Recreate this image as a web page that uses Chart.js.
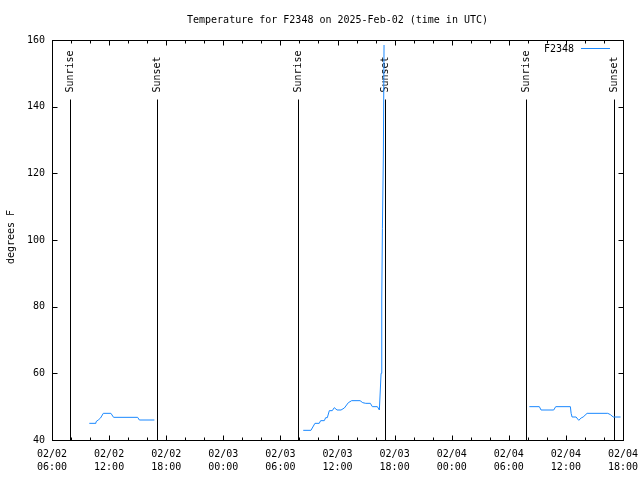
<!DOCTYPE html>
<html>
<head>
<meta charset="utf-8">
<script src="https://cdn.jsdelivr.net/npm/chart.js@4.4.1/dist/chart.umd.min.js"></script>
<style>
  html, body { margin: 0; padding: 0; background: #fff; }
  canvas { display: block; }
</style>
</head>
<body>
<canvas id="graficoTemp" width="640" height="480"></canvas>
<script>
// horas contadas a partir de 02/02 06:00 UTC (null separa os trechos)
const horas = [
  3.92, 4.61, 4.63, 4.86, 5.10, 5.39, 6.19, 6.47, 9.00, 9.18, 10.76,
  18,
  26.40, 27.21, 27.63, 28.08, 28.23, 28.61, 28.76, 28.93, 29.14, 29.45, 29.66, 29.95,
  30.37, 30.72, 31.14, 31.49, 32.37, 32.65, 32.97, 33.45, 33.66, 34.19, 34.40,
  34.58, 34.65, 34.72, 34.82, 34.89,
  42,
  50.16, 51.21, 51.39, 52.72, 52.93, 54.47, 54.55, 54.65, 55.07, 55.35, 55.60,
  55.81, 56.23, 58.40, 58.68, 58.97, 59.74
];
const temperaturas = [
  45.0, 45.0, 45.5, 46.0, 46.6, 48.0, 48.0, 46.8, 46.8, 46.0, 46.0,
  null,
  42.9, 42.9, 45.0, 45.0, 45.8, 45.8, 46.7, 46.7, 48.8, 48.8, 49.7, 49.0,
  49.0, 49.6, 51.2, 51.8, 51.8, 51.2, 51.0, 51.0, 50.0, 50.0, 49.0,
  60.0, 82.0, 103.5, 125.5, 158.5,
  null,
  50.0, 50.0, 49.0, 49.0, 50.0, 50.0, 48.0, 46.9, 46.9, 45.9, 46.6,
  46.9, 48.0, 48.0, 47.6, 46.9, 46.9
];

// nascer e por do sol (horas desde 02/02 06:00)
const nascerSol = [1.87, 25.86, 49.83];
const porSol = [11.02, 35.04, 59.02];
const topoMarca = 142.3;

// rotulos do eixo x
const horasTick = [0, 6, 12, 18, 24, 30, 36, 42, 48, 54, 60];
const datasTick = ["02/02", "02/02", "02/02", "02/03", "02/03", "02/03", "02/03", "02/04", "02/04", "02/04", "02/04"];
const horariosTick = ["06:00", "12:00", "18:00", "00:00", "06:00", "12:00", "18:00", "00:00", "06:00", "12:00", "18:00"];
const valoresY = [40, 60, 80, 100, 120, 140, 160];

const fonte = "DejaVu Sans Mono";
const azul = "#1a88ff";

const pontos = horas.map((h, i) => ({ x: h, y: temperaturas[i] }));

// desenha moldura, ticks internos, linhas do sol, titulo e legenda
const estiloGnuplot = {
  id: "estiloGnuplot",
  beforeDatasetsDraw(chart) {
    const ctx = chart.ctx;
    const sx = chart.scales.x, sy = chart.scales.y;
    const base = Math.round(sy.getPixelForValue(40)) + 0.5;
    const topo = Math.round(sy.getPixelForValue(topoMarca)) + 0.5;
    ctx.save();
    ctx.strokeStyle = "#000";
    ctx.lineWidth = 1;
    nascerSol.concat(porSol).forEach(h => {
      const px = Math.round(sx.getPixelForValue(h)) + 0.5;
      ctx.beginPath();
      ctx.moveTo(px, base);
      ctx.lineTo(px, topo);
      ctx.stroke();
    });
    ctx.fillStyle = "#000";
    ctx.font = "10px '" + fonte + "'";
    ctx.textBaseline = "middle";
    ctx.textAlign = "left";
    const desenhaRotulo = (h, texto) => {
      const px = Math.round(sx.getPixelForValue(h)) + 0.5;
      ctx.save();
      ctx.translate(px, topo - 7);
      ctx.rotate(-Math.PI / 2);
      ctx.fillText(texto, 0, 0);
      ctx.restore();
    };
    nascerSol.forEach(h => desenhaRotulo(h, "Sunrise"));
    porSol.forEach(h => desenhaRotulo(h, "Sunset"));
    ctx.restore();
  },
  afterDraw(chart) {
    const ctx = chart.ctx;
    const a = chart.chartArea;
    const sx = chart.scales.x, sy = chart.scales.y;
    const L = Math.round(a.left) + 0.5, R = Math.round(a.right) + 0.5;
    const T = Math.round(a.top) + 0.5, B = Math.round(a.bottom) + 0.5;
    ctx.save();
    ctx.strokeStyle = "#000";
    ctx.lineWidth = 1;
    ctx.beginPath();
    // ticks do eixo x a cada 2 horas
    for (let h = 0; h <= 60; h += 2) {
      const px = Math.round(sx.getPixelForValue(h)) + 0.5;
      const len = h % 6 === 0 ? 5 : 3;
      ctx.moveTo(px, B); ctx.lineTo(px, B - len);
      ctx.moveTo(px, T); ctx.lineTo(px, T + len);
    }
    valoresY.forEach(v => {
      const py = Math.round(sy.getPixelForValue(v)) + 0.5;
      ctx.moveTo(L, py); ctx.lineTo(L + 5, py);
      ctx.moveTo(R, py); ctx.lineTo(R - 5, py);
    });
    ctx.stroke();
    ctx.strokeRect(L, T, R - L, B - T);

    ctx.fillStyle = "#000";
    ctx.font = "10px '" + fonte + "'";
    ctx.textBaseline = "middle";
    ctx.textAlign = "center";
    ctx.fillText("Temperature for F2348 on 2025-Feb-02 (time in UTC)", (a.left + a.right) / 2, 20);

    // rotulo do eixo y
    ctx.save();
    ctx.translate(11, (a.top + a.bottom) / 2 - 3);
    ctx.rotate(-Math.PI / 2);
    ctx.fillText("degrees F", 0, 0);
    ctx.restore();

    // legenda
    ctx.textAlign = "right";
    ctx.fillText("F2348", 574, 49);
    ctx.strokeStyle = azul;
    ctx.beginPath();
    ctx.moveTo(581, 48.5);
    ctx.lineTo(610, 48.5);
    ctx.stroke();
    ctx.restore();
  }
};

const ctxGrafico = document.getElementById("graficoTemp");

new Chart(ctxGrafico, {
  type: "line",
  data: {
    datasets: [
      {
        label: "F2348",
        data: pontos,
        borderColor: azul,
        borderWidth: 1,
        pointRadius: 0,
        tension: 0,
        spanGaps: false
      }
    ]
  },
  options: {
    responsive: false,
    devicePixelRatio: 1,
    animation: false,
    layout: { padding: { top: 40, right: 17, left: 0, bottom: 0 } },
    plugins: {
      legend: { display: false },
      title: { display: false },
      tooltip: { enabled: false }
    },
    scales: {
      x: {
        type: "linear",
        min: 0,
        max: 60,
        afterFit: s => { s.height = 40; s.paddingLeft = 0; s.paddingRight = 0; },
        afterBuildTicks: s => { s.ticks = horasTick.map(v => ({ value: v })); },
        grid: { display: false, drawTicks: false },
        border: { display: false },
        ticks: {
          autoSkip: false,
          maxRotation: 0,
          padding: 8,
          color: "#000",
          font: { family: fonte, size: 10, lineHeight: 1.3 },
          callback: v => {
            const i = horasTick.indexOf(v);
            return i < 0 ? "" : [datasTick[i], horariosTick[i]];
          }
        }
      },
      y: {
        min: 40,
        max: 160,
        afterFit: s => { s.width = 52; },
        grid: { display: false, drawTicks: false },
        border: { display: false },
        ticks: {
          stepSize: 20,
          padding: 7,
          color: "#000",
          font: { family: fonte, size: 10 }
        }
      }
    }
  },
  plugins: [estiloGnuplot]
});
</script>
</body>
</html>
